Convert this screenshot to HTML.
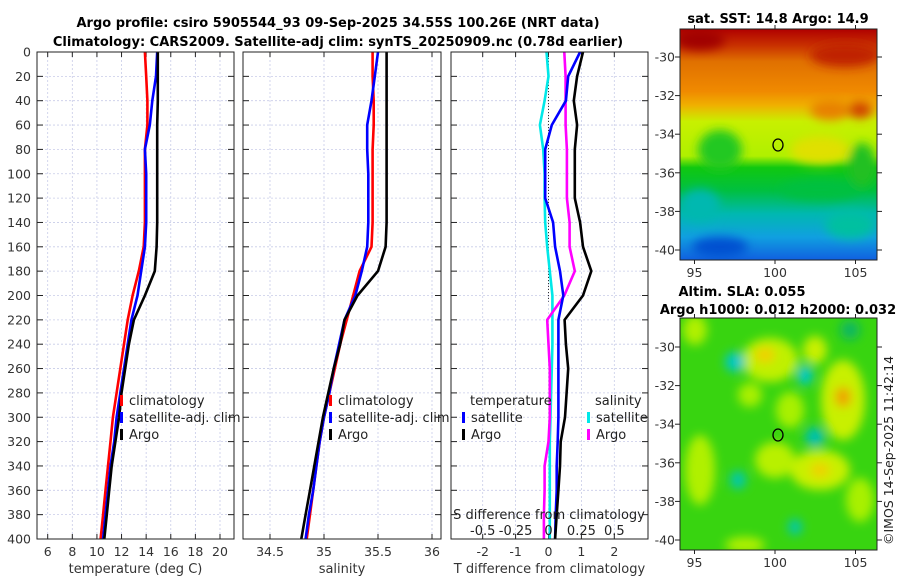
<!DOCTYPE html>
<html><head><meta charset="utf-8"><style>
html,body{margin:0;padding:0;background:#fff;width:900px;height:580px;overflow:hidden}
svg{display:block;font-family:"DejaVu Sans","Liberation Sans",sans-serif}
</style></head><body>
<svg id="fig" width="900" height="580" viewBox="0 0 900 580" xmlns="http://www.w3.org/2000/svg">
<defs>
<linearGradient id="sstg" x1="0" y1="0" x2="0" y2="1">
<stop offset="0" stop-color="#b00000"/><stop offset="0.07" stop-color="#c83000"/>
<stop offset="0.14" stop-color="#e07000"/><stop offset="0.27" stop-color="#f08a00"/>
<stop offset="0.33" stop-color="#f0b000"/><stop offset="0.40" stop-color="#c8f000"/>
<stop offset="0.55" stop-color="#b0f000"/><stop offset="0.60" stop-color="#10c810"/>
<stop offset="0.70" stop-color="#00c040"/><stop offset="0.80" stop-color="#00b8b0"/>
<stop offset="0.90" stop-color="#10a0e0"/><stop offset="1" stop-color="#1060e0"/>
</linearGradient>
<filter id="blur4"><feGaussianBlur stdDeviation="5"/></filter>
<clipPath id="clipTop"><rect x="680" y="29" width="197" height="231"/></clipPath>
<clipPath id="clipBot"><rect x="680" y="318" width="197" height="232"/></clipPath>
</defs>
<text x="338" y="27" text-anchor="middle" font-size="13" font-weight="bold">Argo profile: csiro 5905544_93 09-Sep-2025 34.55S 100.26E (NRT data)</text>
<text x="338" y="46" text-anchor="middle" font-size="13" font-weight="bold">Climatology: CARS2009. Satellite-adj clim: synTS_20250909.nc (0.78d earlier)</text>
<g id="plots"></g>
<text x="778" y="23" text-anchor="middle" font-size="13" font-weight="bold">sat. SST: 14.8 Argo: 14.9</text>
<g clip-path="url(#clipTop)">
<rect x="680" y="29" width="197" height="231" fill="url(#sstg)"/>
<g filter="url(#blur4)">
<ellipse cx="845" cy="55" rx="35" ry="12" fill="#c02000"/>
<ellipse cx="700" cy="40" rx="25" ry="10" fill="#a00000"/>
<ellipse cx="860" cy="110" rx="12" ry="8" fill="#d04000"/>
<ellipse cx="830" cy="110" rx="20" ry="10" fill="#e88000"/>
<ellipse cx="862" cy="165" rx="14" ry="22" fill="#20c020"/>
<ellipse cx="720" cy="150" rx="22" ry="20" fill="#20c820"/>
<ellipse cx="700" cy="205" rx="20" ry="16" fill="#00b8b0"/>
<ellipse cx="820" cy="190" rx="40" ry="10" fill="#00c040"/>
<ellipse cx="720" cy="247" rx="28" ry="10" fill="#0050d0"/>
<ellipse cx="850" cy="225" rx="25" ry="14" fill="#00c0a0"/>
<ellipse cx="820" cy="150" rx="30" ry="14" fill="#e0e000"/>
</g>
</g>
<rect x="680" y="29" width="197" height="231" fill="none" stroke="#222" stroke-width="1"/>
<ellipse cx="778" cy="145" rx="5" ry="6" fill="none" stroke="#000" stroke-width="1.3"/>
<text x="742" y="296" text-anchor="middle" font-size="13" font-weight="bold">Altim. SLA: 0.055</text>
<text x="778" y="314" text-anchor="middle" font-size="13" font-weight="bold">Argo h1000: 0.012 h2000: 0.032</text>
<g clip-path="url(#clipBot)">
<rect x="680" y="318" width="197" height="232" fill="#38d410"/>
<g filter="url(#blur4)">
<ellipse cx="770" cy="360" rx="28" ry="22" fill="#c0f000"/>
<ellipse cx="765" cy="355" rx="10" ry="8" fill="#f0d000"/>
<ellipse cx="815" cy="350" rx="12" ry="14" fill="#c8f000"/>
<ellipse cx="843" cy="400" rx="22" ry="40" fill="#c8f000"/>
<ellipse cx="843" cy="397" rx="8" ry="10" fill="#f0a000"/>
<ellipse cx="820" cy="470" rx="30" ry="20" fill="#c8f000"/>
<ellipse cx="820" cy="470" rx="10" ry="7" fill="#f0d000"/>
<ellipse cx="775" cy="460" rx="20" ry="18" fill="#b8f000"/>
<ellipse cx="790" cy="410" rx="14" ry="18" fill="#a8f000"/>
<ellipse cx="750" cy="395" rx="12" ry="12" fill="#a8f000"/>
<ellipse cx="700" cy="470" rx="15" ry="35" fill="#b0f000"/>
<ellipse cx="695" cy="330" rx="12" ry="15" fill="#b0f000"/>
<ellipse cx="860" cy="500" rx="14" ry="22" fill="#a8f000"/>
<ellipse cx="745" cy="545" rx="20" ry="8" fill="#b0f000"/>
<ellipse cx="735" cy="362" rx="10" ry="10" fill="#00c8c8"/>
<ellipse cx="805" cy="375" rx="8" ry="10" fill="#00c8c8"/>
<ellipse cx="815" cy="437" rx="10" ry="10" fill="#00c0b0"/>
<ellipse cx="738" cy="480" rx="8" ry="9" fill="#00c8b0"/>
<ellipse cx="795" cy="527" rx="7" ry="8" fill="#00c8b0"/>
<ellipse cx="850" cy="330" rx="10" ry="10" fill="#10b860"/>
</g>
</g>
<rect x="680" y="318" width="197" height="232" fill="none" stroke="#222" stroke-width="1"/>
<ellipse cx="778" cy="435" rx="5" ry="6" fill="none" stroke="#000" stroke-width="1.3"/>
<text transform="translate(893,545) rotate(-90)" font-size="12.5" fill="#222">©IMOS 14-Sep-2025 11:42:14</text>
</svg>
<script>
const depths=[0,20,40,60,80,100,120,140,160,180,200,220,240,260,280,300,320,340,360,380,400];
const climT=[13.9,14.0,14.1,14.1,13.9,13.9,13.9,13.9,13.8,13.4,12.9,12.5,12.2,11.9,11.6,11.3,11.1,10.9,10.7,10.5,10.3];
const satT=[14.9,14.8,14.5,14.3,13.9,14.0,14.0,14.0,13.9,13.6,13.3,12.8,12.5,12.2,11.9,11.6,11.4,11.1,10.9,10.7,10.5];
const argoT=[14.95,14.95,14.95,14.9,14.9,14.9,14.9,14.9,14.85,14.7,13.9,13.0,12.6,12.3,12.0,11.8,11.5,11.2,11.0,10.8,10.6];
const climS=[35.45,35.45,35.46,35.46,35.45,35.45,35.45,35.45,35.44,35.33,35.27,35.21,35.15,35.10,35.05,35.00,34.96,34.93,34.90,34.87,34.84];
const satS=[35.50,35.47,35.44,35.40,35.40,35.41,35.41,35.41,35.40,35.35,35.29,35.19,35.14,35.09,35.05,35.00,34.96,34.93,34.90,34.86,34.83];
const argoS=[35.58,35.58,35.58,35.58,35.58,35.58,35.58,35.58,35.57,35.50,35.31,35.19,35.15,35.09,35.04,34.99,34.95,34.91,34.87,34.83,34.79];
const satTdiff=[0.96,0.6,0.53,0.1,-0.1,-0.1,-0.1,0.14,0.2,0.35,0.45,0.3,0.3,0.3,0.3,0.3,0.28,0.25,0.25,0.22,0.2];
const argoTdiff=[1.05,0.87,0.77,0.87,0.8,0.8,0.8,0.96,1.05,1.3,1.05,0.49,0.53,0.6,0.55,0.5,0.37,0.35,0.3,0.25,0.2];
const satSdiff=[-0.015,0.0,-0.03,-0.065,-0.04,-0.03,-0.03,-0.025,-0.01,0.01,0.03,0.03,0.03,0.025,0.02,0.015,0.01,0.01,0.01,0.01,0.01];
const argoSdiff=[0.12,0.13,0.13,0.13,0.14,0.14,0.14,0.16,0.16,0.2,0.12,-0.01,0.0,0.01,0.01,0.01,0.0,-0.03,-0.03,-0.035,-0.035];
const tTicks=[6,8,10,12,14,16,18,20];
const sTicks=[34.5,35,35.5,36];
const dTicks=[-2,-1,0,1,2];
const sdTicks=[-0.5,-0.25,0,0.25,0.5];
const sdTickLabels=["-0.5","-0.25","0","0.25","0.5"];
const depthTicks=[0,20,40,60,80,100,120,140,160,180,200,220,240,260,280,300,320,340,360,380,400];
const latTicks=[-30,-32,-34,-36,-38,-40];
const lonTicks=[95,100,105];

const NS='http://www.w3.org/2000/svg';
const G=document.getElementById('plots');
function mk(tag,attrs,parent){const e=document.createElementNS(NS,tag);for(const k in attrs)e.setAttribute(k,attrs[k]);(parent||G).appendChild(e);return e;}
const yTop=52,yBot=539;
const yD=d=>yTop+(d/400)*(yBot-yTop);
const xT=v=>47.7+(v-6)*(220-47.7)/14;
const xS=v=>270+(v-34.5)*(432-270)/1.5;
const xTd=v=>548.5+v*32.9;
const xSd=v=>548.5+v*131.6;

function panel(name,x0,x1,ticks,xf,labels,xlabel,showDepth){
  const g=mk('g',{});
  
  
  ticks.forEach((t,i)=>{const x=xf(t);
    mk('line',{x1:x,x2:x,y1:yTop,y2:yBot,stroke:'#c8cce8','stroke-width':0.8,'stroke-dasharray':'2,2'},g);
    mk('line',{x1:x,x2:x,y1:yBot,y2:yBot-5,stroke:'#222'},g);
    mk('line',{x1:x,x2:x,y1:yTop,y2:yTop+5,stroke:'#222'},g);
    const tx=mk('text',{x:x,y:556,'text-anchor':'middle','font-size':12.5,fill:'#333'},g);
    
    
    tx.textContent=labels[i];});
  depthTicks.forEach(d=>{const y=yD(d);
    mk('line',{x1:x0,x2:x1,y1:y,y2:y,stroke:'#c8cce8','stroke-width':0.8,'stroke-dasharray':'2,2'},g);
    mk('line',{x1:x0,x2:x0+6,y1:y,y2:y,stroke:'#222'},g);
    mk('line',{x1:x1,x2:x1-6,y1:y,y2:y,stroke:'#222'},g);
    if(showDepth){const tx=mk('text',{x:31,y:y+4.5,'text-anchor':'end','font-size':12.5,fill:'#333'},g);
      
      
      tx.textContent=d;}});
  const xl=mk('text',{x:(x0+x1)/2,y:573,'text-anchor':'middle','font-size':13,fill:'#333'},g);
  
  
  xl.textContent=xlabel;
  return g;
}
function series(g,name,vals,xf,color){
  const pts=vals.map((v,i)=>xf(v).toFixed(1)+','+yD(depths[i]).toFixed(1)).join(' ');
  const p=mk('polyline',{points:pts,fill:'none',stroke:color,'stroke-width':2.6,'stroke-linejoin':'round'},g);
  
  
}
function legend(g,x,y,color,label){
  mk('rect',{x:x,y:y-10,width:3,height:11,fill:color},g);
  const t=mk('text',{x:x+9,y:y,'font-size':13,fill:'#222'},g);
  
  
  t.textContent=label;
}
function frame(g,x0,x1){mk('rect',{x:x0,y:yTop,width:x1-x0,height:yBot-yTop,fill:'none',stroke:'#222','stroke-width':1},g);}

const p1=panel('temperature-panel',37,234,tTicks,xT,tTicks.map(String),'temperature (deg C)',true);
series(p1,'climatology-temperature-line',climT,xT,'#ff0000');
series(p1,'satellite-temperature-line',satT,xT,'#0000ff');
series(p1,'argo-temperature-line',argoT,xT,'#000000');
legend(p1,120,405,'#ff0000','climatology');
legend(p1,120,422,'#0000ff','satellite-adj. clim');
legend(p1,120,439,'#000000','Argo');
frame(p1,37,234);

const p2=panel('salinity-panel',243,441,sTicks,xS,['34.5','35','35.5','36'],'salinity',false);
series(p2,'climatology-salinity-line',climS,xS,'#ff0000');
series(p2,'satellite-salinity-line',satS,xS,'#0000ff');
series(p2,'argo-salinity-line',argoS,xS,'#000000');
legend(p2,329,405,'#ff0000','climatology');
legend(p2,329,422,'#0000ff','satellite-adj. clim');
legend(p2,329,439,'#000000','Argo');
frame(p2,243,441);

const p3=panel('difference-panel',451,648,dTicks,xTd,dTicks.map(String),'T difference from climatology',false);
mk('line',{x1:548.5,x2:548.5,y1:yTop,y2:yD(205),stroke:'#333','stroke-width':1,'stroke-dasharray':'1,2'},p3);
series(p3,'satellite-salinity-diff-line',satSdiff,xSd,'#00e8e8');
series(p3,'argo-salinity-diff-line',argoSdiff,xSd,'#ff00ff');
series(p3,'satellite-temperature-diff-line',satTdiff,xTd,'#0000ff');
series(p3,'argo-temperature-diff-line',argoTdiff,xTd,'#000000');
const lt=mk('text',{x:470,y:405,'font-size':13,fill:'#222'},p3);


lt.textContent='temperature';
const ls=mk('text',{x:595,y:405,'font-size':13,fill:'#222'},p3);


ls.textContent='salinity';
legend(p3,462,422,'#0000ff','satellite');
legend(p3,462,439,'#000000','Argo');
legend(p3,587,422,'#00e8e8','satellite');
legend(p3,587,439,'#ff00ff','Argo');
const st=mk('text',{x:549,y:519,'text-anchor':'middle','font-size':13,fill:'#222'},p3);


st.textContent='S difference from climatology';
sdTicks.forEach((v,i)=>{const t=mk('text',{x:xSd(v),y:535,'text-anchor':'middle','font-size':13,fill:'#222'},p3);
  
  
  t.textContent=sdTickLabels[i];});
frame(p3,451,648);

const svg=document.getElementById('fig');
const lonX=v=>775+(v-100)*16.1;
function mapAxes(name,y0,y1,latY){
  const g=mk('g',{},svg);
  
  
  latTicks.forEach(l=>{const y=latY(l);
    mk('line',{x1:680,x2:675,y1:y,y2:y,stroke:'#222'},g);
    mk('line',{x1:877,x2:882,y1:y,y2:y,stroke:'#222'},g);
    const t=mk('text',{x:675,y:y+4.5,'text-anchor':'end','font-size':12.5,fill:'#333'},g);
    
    
    t.textContent=l;});
  lonTicks.forEach(l=>{const x=lonX(l);
    mk('line',{x1:x,x2:x,y1:y1,y2:y1+4,stroke:'#222'},g);
    mk('line',{x1:x,x2:x,y1:y0,y2:y0-4,stroke:'#222'},g);
    const t=mk('text',{x:x,y:y1+17,'text-anchor':'middle','font-size':12.5,fill:'#333'},g);
    
    
    t.textContent=l;});
}
mapAxes('sst-map-axes',29,260,l=>57+(-30-l)*19.3);
mapAxes('sla-map-axes',318,550,l=>347+(-30-l)*19.3);
</script>
</body></html>
